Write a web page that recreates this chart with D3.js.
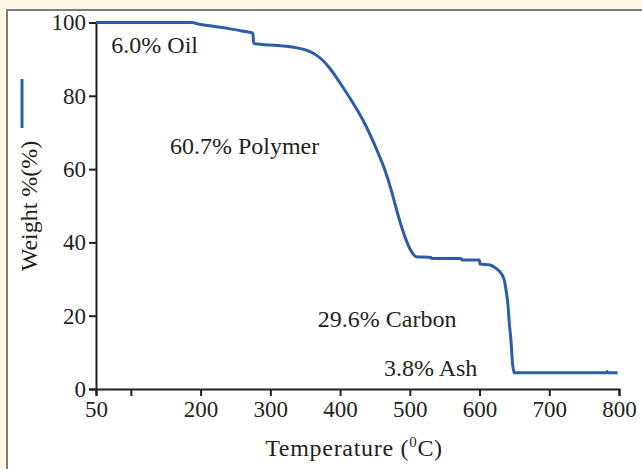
<!DOCTYPE html>
<html>
<head>
<meta charset="utf-8">
<script src="https://cdn.jsdelivr.net/npm/d3@7"></script>
<style>
  html, body { margin: 0; padding: 0; background: #fdf6e5; }
  svg { display: block; }
  text { font-family: "Liberation Serif", "DejaVu Serif", serif; fill: #231f20; }
</style>
</head>
<body>
<svg id="chart" width="642" height="469"></svg>
<script>
// Temperature (°C) and weight (%)
const temperature = [50, 189, 192, 213, 239, 259, 275, 276, 310.6, 335, 353.5, 366, 385, 400, 416.7, 433.3, 450.1, 464.5, 474.1, 483.5, 493.1, 500.3, 505, 509, 530.6, 531.5, 573.5, 574.5, 599.7, 600.7, 614, 623.7, 630.8, 635.5, 638, 641, 642.7, 645, 647.3, 649.8, 782, 783, 784, 798];
const weight      = [100, 100, 99.8, 99.1, 98.4, 97.7, 97.1, 94.3, 93.7, 93.2, 92.3, 91.1, 87.6, 83.5, 78.6, 73.2, 66.4, 59.6, 53.8, 47.2, 41.5, 38.2, 36.8, 36.1, 35.9, 35.6, 35.6, 35.2, 35.2, 34.1, 33.9, 32.9, 31.6, 29.7, 27.0, 22.5, 17.9, 13.4, 7.0, 4.4, 4.4, 4.8, 4.4, 4.4];

const xTicks = [50, 100, 200, 300, 400, 500, 600, 700, 800];
const xTickLabels = ["50", "", "200", "300", "400", "500", "600", "700", "800"];
const yTicks = [0, 20, 40, 60, 80, 100];

const annotations = ["6.0% Oil", "60.7% Polymer", "29.6% Carbon", "3.8% Ash"];
const annotationT = [72, 156, 368, 463];     // temperature at label start
const annotationW = [91.7, 64.1, 16.9, 3.5]; // weight at label baseline

const svg = d3.select("#chart");

// panel
svg.append("rect").attr("x", 0).attr("y", 0).attr("width", 642).attr("height", 469).attr("fill", "#fdf6e5");
svg.append("rect").attr("x", 7).attr("y", 10).attr("width", 660).attr("height", 480)
   .attr("fill", "#ffffff").attr("stroke", "#7b7b7b").attr("stroke-width", 2);

const x = d3.scaleLinear().domain([50, 800]).range([96, 619]);
const y = d3.scaleLinear().domain([0, 100]).range([389, 22.5]);

const tickFs = 23;
const annFs = 24;

// x axis
const xAxis = d3.axisBottom(x).tickValues(xTicks)
  .tickFormat((d, i) => xTickLabels[i]).tickSize(7).tickPadding(5);
const gx = svg.append("g").attr("transform", `translate(0,${y(0)})`).call(xAxis);
gx.select(".domain").attr("stroke", "#231f20").attr("stroke-width", 2);
gx.selectAll(".tick line").attr("stroke", "#231f20").attr("stroke-width", 2);
gx.selectAll(".tick text").style("font-family", '"Liberation Serif", serif').style("font-size", tickFs + "px").attr("fill", "#231f20");

// y axis
const yAxis = d3.axisLeft(y).tickValues(yTicks).tickSize(7).tickPadding(3);
const gy = svg.append("g").attr("transform", `translate(${x(50)},0)`).call(yAxis);
gy.select(".domain").attr("stroke", "#231f20").attr("stroke-width", 2);
gy.selectAll(".tick line").attr("stroke", "#231f20").attr("stroke-width", 2);
gy.selectAll(".tick text").style("font-family", '"Liberation Serif", serif').style("font-size", tickFs + "px").attr("fill", "#231f20");

// curve
const line = d3.line().x((d, i) => x(temperature[i])).y((d, i) => y(weight[i])).curve(d3.curveMonotoneX);
svg.append("path").datum(weight).attr("d", line)
   .attr("fill", "none").attr("stroke", "#2d5da8").attr("stroke-width", 3);

// annotations
svg.selectAll("text.ann").data(annotations).enter().append("text")
   .attr("class", "ann")
   .attr("x", (d, i) => x(annotationT[i]))
   .attr("y", (d, i) => y(annotationW[i]))
   .style("font-size", annFs + "px")
   .text(d => d);

// y label with legend line
svg.append("line").attr("x1", 22).attr("x2", 22).attr("y1", 79).attr("y2", 128)
   .attr("stroke", "#2d5da8").attr("stroke-width", 3);
svg.append("text")
   .attr("transform", "translate(37,206) rotate(-90)")
   .attr("text-anchor", "middle")
   .style("font-size", "24px")
   .text("Weight %(%)");

// x label
const xl = svg.append("text").attr("x", 354).attr("y", 456).attr("text-anchor", "middle")
   .style("font-size", "24px").style("letter-spacing", "0.7px");
xl.append("tspan").text("Temperature (");
xl.append("tspan").attr("dy", -9).style("font-size", "15px").text("0");
xl.append("tspan").attr("dy", 9).text("C)");
</script>
</body>
</html>
